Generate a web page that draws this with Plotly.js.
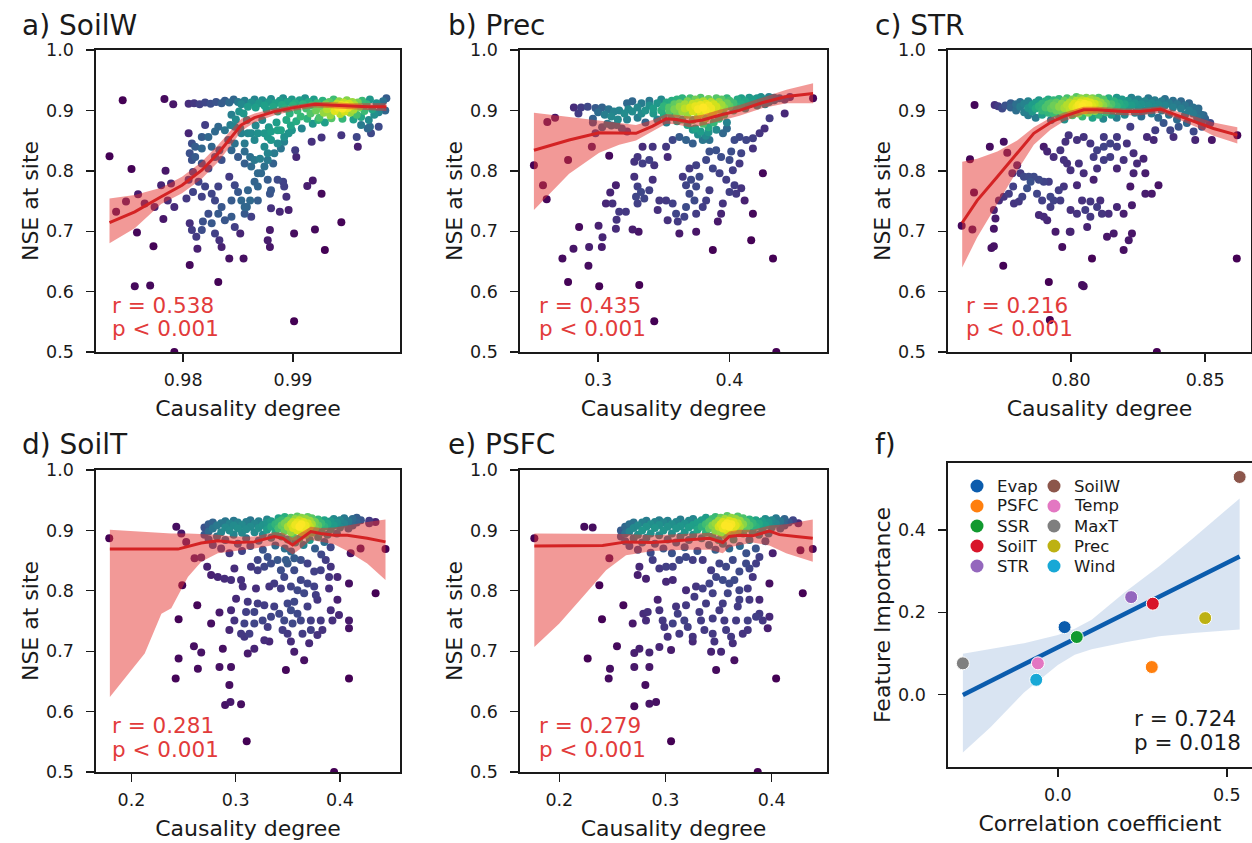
<!DOCTYPE html>
<html>
<head>
<meta charset="utf-8">
<script src="https://cdn.plot.ly/plotly-3.0.1.min.js"></script>
<style>html,body{margin:0;padding:0;background:#fff;}#chart{width:1252px;height:843px;}</style>
</head>
<body>
<div id="chart"></div>
<script>
// ---------------- DATA ----------------
const panelTitles = ['a) SoilW', 'b) Prec', 'c) STR', 'd) SoilT', 'e) PSFC', 'f)'];
const statR = ['r = 0.538', 'r = 0.435', 'r = 0.216', 'r = 0.281', 'r = 0.279', 'r = 0.724'];
const statP = ['p < 0.001', 'p < 0.001', 'p < 0.001', 'p < 0.001', 'p < 0.001', 'p = 0.018'];
const nseTicks = [0.5, 0.6, 0.7, 0.8, 0.9, 1.0];
const soilwTicks = [0.98, 0.99];
const precTicks = [0.3, 0.4];
const strTicks = [0.80, 0.85];
const soiltTicks = [0.2, 0.3, 0.4];
const psfcTicks = [0.2, 0.3, 0.4];
const corrTicks = [0.0, 0.5];
const impTicks = [0.0, 0.2, 0.4];

// a) SoilW : [causality degree, NSE]
const soilwPts = [
[0.9733,0.824],[0.9745,0.917],[0.9753,0.803],[0.9739,0.732],[0.9748,0.749],[0.9759,0.761],[0.9758,0.698],[0.9756,0.609],[0.9770,0.610],[0.9773,0.675],[0.9765,0.746],[0.9774,0.740],[0.9783,0.919],[0.9791,0.910],[0.9784,0.800],[0.9782,0.720],[0.9780,0.776],[0.9789,0.779],[0.9786,0.751],[0.9792,0.740],[0.9792,0.500],[0.9806,0.644],[0.9813,0.671],[0.9832,0.616],[0.9842,0.655],[0.9855,0.655],[0.9901,0.551],[0.9901,0.696],[0.9920,0.703],[0.9929,0.669],[0.9944,0.715],[0.9926,0.762],[0.9913,0.775],[0.9918,0.784],[0.9902,0.834],[0.9903,0.823],[0.9917,0.848],[0.9926,0.855],[0.9944,0.859],[0.9959,0.840],[0.9958,0.856],[0.9971,0.862],[0.9970,0.873],[0.9978,0.873],[0.9985,0.920],
[0.9808,0.845],[0.9806,0.829],[0.9811,0.840],[0.9817,0.837],[0.9820,0.876],[0.9829,0.865],[0.9823,0.856],[0.9808,0.818],[0.9817,0.812],[0.9823,0.804],[0.9809,0.798],[0.9805,0.785],[0.9814,0.782],[0.9820,0.774],[0.9809,0.765],[0.9803,0.754],[0.9817,0.757],[0.9826,0.762],[0.9832,0.774],[0.9829,0.751],[0.9835,0.740],[0.9823,0.729],[0.9818,0.716],[0.9808,0.702],[0.9812,0.691],[0.9806,0.713],[0.9817,0.702],[0.9826,0.713],[0.9832,0.729],[0.9838,0.718],[0.9844,0.724],[0.9847,0.707],[0.9852,0.696],[0.9833,0.685],[0.9835,0.674],[0.9829,0.696],[0.9842,0.790],[0.9847,0.776],[0.9850,0.765],[0.9844,0.751],[0.9853,0.751],[0.9856,0.740],[0.9861,0.751],[0.9859,0.768],[0.9865,0.782],[0.9868,0.796],[0.9862,0.807],[0.9856,0.812],[0.9850,0.823],[0.9844,0.834],[0.9856,0.832],[0.9861,0.823],[0.9865,0.818],[0.9870,0.820],[0.9874,0.807],[0.9877,0.818],[0.9882,0.812],[0.9877,0.829],[0.9874,0.840],[0.9880,0.851],[0.9886,0.845],[0.9889,0.837],[0.9892,0.848],[0.9883,0.829],[0.9865,0.851],[0.9859,0.862],[0.9853,0.862],[0.9856,0.845],[0.9868,0.862],[0.9874,0.862],[0.9877,0.856],[0.9880,0.865],[0.9886,0.867],[0.9892,0.856],[0.9896,0.862],[0.9899,0.867],[0.9856,0.729],[0.9862,0.724],[0.9858,0.740],[0.9868,0.751],[0.9877,0.785],[0.9880,0.768],[0.9879,0.762],[0.9886,0.785],[0.9891,0.782],[0.9894,0.757],[0.9896,0.735],[0.9888,0.732],[0.9880,0.738],[0.9879,0.702],[0.9877,0.685],[0.9879,0.674],[0.9892,0.774],[0.9868,0.774],[0.9871,0.796],[0.9835,0.818],[0.9829,0.823],[0.9833,0.834],[0.9841,0.851],[0.9847,0.845],[0.9838,0.867],[0.9847,0.873],[0.9832,0.873],[0.9826,0.840],[0.9817,0.856],[0.9811,0.823],[0.9805,0.862],
[0.9805,0.911],[0.9810,0.912],[0.9815,0.910],[0.9820,0.913],[0.9825,0.911],[0.9830,0.914],[0.9835,0.912],[0.9838,0.916],[0.9842,0.913],[0.9846,0.918],[0.9850,0.914],[0.9853,0.910],[0.9856,0.916],[0.9859,0.906],[0.9862,0.913],[0.9865,0.918],[0.9866,0.905],[0.9869,0.912],[0.9872,0.917],[0.9874,0.908],[0.9876,0.901],[0.9878,0.914],[0.9880,0.919],[0.9882,0.906],[0.9884,0.912],[0.9886,0.898],[0.9888,0.916],[0.9890,0.909],[0.9891,0.920],[0.9893,0.903],[0.9895,0.914],[0.9897,0.895],[0.9899,0.918],[0.9900,0.908],[0.9902,0.912],[0.9904,0.900],[0.9906,0.917],[0.9907,0.890],[0.9909,0.910],[0.9911,0.920],[0.9912,0.903],[0.9914,0.914],[0.9916,0.895],[0.9917,0.908],[0.9919,0.918],[0.9921,0.900],[0.9922,0.912],[0.9924,0.888],[0.9925,0.906],[0.9927,0.916],[0.9928,0.896],[0.9930,0.910],[0.9931,0.902],[0.9933,0.914],[0.9934,0.892],[0.9936,0.907],[0.9937,0.918],[0.9938,0.899],[0.9940,0.911],[0.9941,0.905],[0.9942,0.915],[0.9943,0.894],[0.9944,0.909],[0.9945,0.903],[0.9946,0.913],[0.9947,0.898],[0.9948,0.908],[0.9949,0.917],[0.9950,0.904],[0.9951,0.911],[0.9952,0.896],[0.9953,0.907],[0.9954,0.914],[0.9955,0.901],[0.9956,0.909],[0.9958,0.893],[0.9959,0.913],[0.9960,0.905],[0.9962,0.889],[0.9963,0.916],[0.9965,0.899],[0.9967,0.910],[0.9969,0.884],[0.9970,0.918],[0.9972,0.902],[0.9974,0.893],[0.9976,0.912],[0.9978,0.897],[0.9980,0.906],[0.9982,0.915],[0.9984,0.900],
[0.9872,0.884],[0.9878,0.872],[0.9885,0.880],[0.9889,0.867],[0.9894,0.884],[0.9898,0.875],[0.9903,0.882],[0.9908,0.870],[0.9913,0.886],[0.9918,0.878],[0.9923,0.884],[0.9929,0.880],[0.9935,0.887],[0.9945,0.886],[0.9955,0.885],[0.9962,0.876],[0.9968,0.870],
[0.9855,0.895],[0.9858,0.884],[0.9852,0.870],[0.9848,0.885],[0.9843,0.876],[0.9862,0.862],[0.9866,0.875],[0.9844,0.893],[0.9851,0.898]
];
const soilwLineX = [0.9733,0.9756,0.9780,0.9799,0.9817,0.9832,0.9844,0.9853,0.9865,0.9883,0.9902,0.9920,0.9932,0.9953,0.9968,0.9985];
const soilwLineY = [0.714,0.732,0.757,0.776,0.801,0.829,0.856,0.876,0.888,0.898,0.905,0.910,0.909,0.907,0.906,0.906];
const soilwBandHi = [0.754,0.760,0.772,0.790,0.815,0.843,0.868,0.886,0.895,0.903,0.909,0.914,0.914,0.912,0.912,0.912];
const soilwBandLo = [0.680,0.705,0.745,0.763,0.787,0.815,0.843,0.866,0.880,0.892,0.900,0.905,0.904,0.902,0.900,0.899];

// b) Prec
const precPts = [
[0.2511,0.809],[0.2580,0.776],[0.2608,0.753],[0.2613,0.881],[0.2672,0.888],[0.2771,0.818],[0.2952,0.840],[0.2728,0.655],[0.2771,0.616],[0.2812,0.671],[0.2855,0.707],[0.2931,0.674],[0.2926,0.643],[0.3008,0.609],[0.3003,0.709],[0.3033,0.690],[0.3028,0.674],[0.3084,0.825],[0.3092,0.764],[0.3135,0.776],[0.3059,0.746],[0.3109,0.746],[0.3140,0.719],[0.3135,0.704],[0.3211,0.732],[0.3160,0.732],[0.3262,0.703],[0.3308,0.699],[0.3313,0.611],[0.3427,0.551],[0.3275,0.815],[0.3300,0.823],[0.3338,0.812],[0.3389,0.818],[0.3427,0.809],[0.3275,0.790],[0.3300,0.774],[0.3326,0.765],[0.3288,0.757],[0.3351,0.754],[0.3389,0.768],[0.3300,0.746],[0.3415,0.785],[0.3466,0.751],[0.3453,0.735],[0.3517,0.751],[0.3529,0.718],[0.3567,0.746],[0.3593,0.729],[0.3606,0.716],[0.3618,0.696],[0.3656,0.724],[0.3669,0.740],[0.3695,0.762],[0.3669,0.776],[0.3707,0.785],[0.3644,0.790],[0.3695,0.804],[0.3746,0.809],[0.3771,0.790],[0.3746,0.774],[0.3733,0.751],[0.3746,0.729],[0.3746,0.699],[0.3796,0.740],[0.3822,0.751],[0.3847,0.768],[0.3873,0.669],[0.3911,0.716],[0.3936,0.729],[0.3949,0.746],[0.3975,0.785],[0.3924,0.796],[0.3873,0.804],[0.3822,0.818],[0.3847,0.832],[0.3898,0.834],[0.3936,0.823],[0.4000,0.818],[0.4013,0.832],[0.4025,0.801],[0.4038,0.776],[0.4051,0.762],[0.4000,0.765],[0.4089,0.771],[0.4115,0.751],[0.4178,0.729],[0.4165,0.685],[0.4076,0.812],[0.4089,0.829],[0.4178,0.837],[0.4254,0.796],[0.4331,0.655],[0.4356,0.500],[0.4178,0.854],[0.4229,0.862],[0.4267,0.870],[0.4305,0.887],[0.4420,0.895],[0.4127,0.851],[0.4076,0.856],[0.4038,0.851],[0.3517,0.840],[0.3529,0.823],[0.3567,0.851],[0.3618,0.856],[0.3415,0.840],[0.3338,0.840],[0.3796,0.851],[0.3847,0.851],[0.3669,0.851],[0.3720,0.845],[0.4636,0.920],
[0.2815,0.905],[0.2870,0.905],[0.2920,0.906],[0.2980,0.904],[0.3030,0.905],[0.3080,0.902],[0.3120,0.898],[0.3160,0.900],[0.3200,0.895],[0.3000,0.897],[0.3050,0.893],[0.3100,0.890],[0.2850,0.895],[0.3150,0.885],[0.3230,0.902],[0.3070,0.878],[0.3140,0.876],[0.2960,0.886],[0.3220,0.885],
[0.322,0.912],[0.326,0.898],[0.326,0.915],[0.330,0.905],[0.330,0.888],[0.333,0.912],[0.333,0.895],[0.336,0.900],[0.336,0.880],[0.339,0.908],[0.339,0.916],[0.342,0.895],[0.342,0.903],[0.345,0.912],[0.345,0.885],[0.348,0.900],[0.348,0.918],[0.350,0.907],[0.350,0.892],[0.352,0.913],[0.352,0.880],[0.354,0.899],[0.354,0.905],[0.356,0.916],[0.356,0.890],[0.358,0.902],[0.358,0.910],[0.360,0.895],[0.360,0.918],[0.360,0.882],[0.362,0.906],[0.362,0.912],[0.364,0.898],[0.364,0.920],[0.364,0.885],[0.366,0.910],[0.366,0.903],[0.368,0.915],[0.368,0.893],[0.368,0.876],[0.370,0.905],[0.370,0.920],[0.372,0.898],[0.372,0.911],[0.372,0.884],[0.374,0.907],[0.374,0.918],[0.374,0.870],[0.376,0.902],[0.376,0.913],[0.376,0.890],[0.378,0.909],[0.378,0.896],[0.378,0.921],[0.380,0.905],[0.380,0.915],[0.380,0.878],[0.382,0.900],[0.382,0.911],[0.382,0.887],[0.384,0.908],[0.384,0.919],[0.384,0.872],[0.386,0.903],[0.386,0.914],[0.386,0.894],[0.388,0.910],[0.388,0.898],[0.388,0.880],[0.390,0.906],[0.390,0.920],[0.392,0.901],[0.392,0.914],[0.392,0.886],[0.394,0.909],[0.394,0.918],[0.396,0.904],[0.396,0.893],[0.398,0.912],[0.398,0.920],[0.398,0.880],[0.400,0.907],[0.400,0.916],[0.403,0.912],[0.403,0.900],[0.406,0.918],[0.406,0.906],[0.409,0.910],[0.409,0.920],[0.412,0.915],[0.412,0.903],[0.415,0.921],[0.415,0.910],[0.418,0.913],[0.418,0.918],[0.421,0.920],[0.421,0.908],[0.424,0.915],[0.424,0.922],[0.427,0.918],[0.427,0.910],[0.430,0.922],[0.430,0.914],[0.434,0.917],[0.434,0.921],[0.438,0.920],[0.442,0.918],[0.446,0.922],
[0.372,0.868],[0.378,0.865],[0.384,0.864],[0.390,0.868],[0.395,0.862],[0.382,0.858],[0.376,0.860],[0.398,0.870],[0.296,0.880],[0.303,0.872],[0.310,0.875],[0.318,0.870],[0.322,0.865],[0.298,0.862]
];
const precLineX = [0.2511,0.2779,0.3008,0.3160,0.3288,0.3415,0.3517,0.3593,0.3695,0.3796,0.3924,0.4076,0.4254,0.4433,0.4636];
const precLineY = [0.834,0.851,0.863,0.862,0.862,0.874,0.886,0.885,0.881,0.884,0.892,0.900,0.913,0.923,0.928];
const precBandHi = [0.896,0.889,0.884,0.880,0.876,0.884,0.894,0.893,0.890,0.893,0.901,0.909,0.922,0.934,0.945];
const precBandLo = [0.735,0.795,0.830,0.843,0.850,0.865,0.878,0.877,0.872,0.875,0.883,0.891,0.904,0.912,0.912];

// c) STR
const strPts = [
[0.7640,0.909],[0.7592,0.709],[0.7632,0.703],[0.7623,0.819],[0.7638,0.764],[0.7697,0.840],[0.7715,0.909],[0.7728,0.907],[0.7743,0.903],[0.7762,0.830],[0.7749,0.848],[0.7712,0.735],[0.7718,0.721],[0.7712,0.704],[0.7703,0.672],[0.7712,0.675],[0.7747,0.643],[0.7731,0.751],[0.7749,0.757],[0.7768,0.762],[0.7784,0.774],[0.7781,0.796],[0.7799,0.809],[0.7811,0.796],[0.7824,0.790],[0.7842,0.790],[0.7861,0.790],[0.7880,0.785],[0.7898,0.782],[0.7917,0.782],[0.7849,0.782],[0.7805,0.749],[0.7818,0.757],[0.7787,0.746],[0.7836,0.771],[0.7873,0.762],[0.7892,0.751],[0.7923,0.757],[0.7935,0.751],[0.7954,0.768],[0.7973,0.774],[0.7960,0.751],[0.7880,0.727],[0.7898,0.724],[0.7911,0.718],[0.7923,0.740],[0.7942,0.699],[0.7967,0.674],[0.7995,0.699],[0.7917,0.616],[0.7921,0.553],[0.8078,0.655],[0.8047,0.609],[0.8041,0.611],[0.7898,0.840],[0.7911,0.832],[0.7935,0.823],[0.7973,0.818],[0.7985,0.812],[0.7960,0.834],[0.7998,0.801],[0.8029,0.812],[0.8047,0.796],[0.8022,0.776],[0.8041,0.751],[0.8053,0.735],[0.8072,0.749],[0.8097,0.740],[0.8072,0.724],[0.8060,0.707],[0.8022,0.729],[0.7998,0.735],[0.7998,0.699],[0.8084,0.785],[0.8109,0.751],[0.8115,0.729],[0.8140,0.729],[0.8134,0.691],[0.8159,0.696],[0.8171,0.740],[0.8196,0.729],[0.8196,0.669],[0.8215,0.685],[0.8227,0.696],[0.8227,0.743],[0.8221,0.774],[0.8233,0.796],[0.8246,0.812],[0.8270,0.820],[0.8277,0.796],[0.8277,0.762],[0.8301,0.762],[0.8326,0.776],[0.8171,0.840],[0.8146,0.845],[0.8122,0.840],[0.8097,0.834],[0.8084,0.823],[0.8072,0.845],[0.8047,0.856],[0.8022,0.851],[0.8122,0.856],[0.8171,0.856],[0.8208,0.845],[0.8233,0.829],[0.8196,0.818],[0.8171,0.804],[0.8146,0.823],[0.8122,0.818],[0.8097,0.804],[0.8221,0.873],[0.8283,0.856],[0.8308,0.851],[0.8314,0.867],[0.8345,0.879],[0.8370,0.867],[0.8382,0.856],[0.8401,0.873],[0.8432,0.879],[0.8457,0.865],[0.8463,0.851],[0.8488,0.873],[0.8519,0.879],[0.8525,0.851],[0.8494,0.892],[0.8475,0.903],[0.8620,0.859],[0.8618,0.655],[0.8320,0.500],[0.7979,0.848],[0.7991,0.859],
[0.7755,0.908],[0.7775,0.905],[0.7775,0.912],[0.7795,0.900],[0.7795,0.910],[0.7810,0.906],[0.7810,0.914],[0.7825,0.897],[0.7825,0.911],[0.7840,0.904],[0.7840,0.915],[0.7840,0.892],[0.7855,0.909],[0.7855,0.898],[0.7868,0.913],[0.7868,0.903],[0.7868,0.888],[0.7880,0.907],[0.7880,0.917],[0.7892,0.900],[0.7892,0.911],[0.7892,0.893],[0.7905,0.915],[0.7905,0.905],[0.7915,0.896],[0.7915,0.910],[0.7915,0.918],[0.7925,0.903],[0.7925,0.912],[0.7925,0.884],[0.7935,0.908],[0.7935,0.917],[0.7935,0.895],[0.7945,0.900],[0.7945,0.913],[0.7955,0.906],[0.7955,0.919],[0.7955,0.890],[0.7965,0.911],[0.7965,0.898],[0.7975,0.904],[0.7975,0.916],[0.7975,0.885],[0.7985,0.909],[0.7985,0.920],[0.7985,0.896],[0.7995,0.902],[0.7995,0.913],[0.8005,0.907],[0.8005,0.918],[0.8005,0.892],[0.8012,0.911],[0.8012,0.899],[0.8020,0.905],[0.8020,0.916],[0.8020,0.922],[0.8028,0.909],[0.8028,0.895],[0.8035,0.913],[0.8035,0.902],[0.8035,0.920],[0.8042,0.907],[0.8042,0.917],[0.8042,0.890],[0.8050,0.911],[0.8050,0.900],[0.8057,0.905],[0.8057,0.915],[0.8057,0.921],[0.8065,0.909],[0.8065,0.896],[0.8072,0.913],[0.8072,0.903],[0.8072,0.918],[0.8080,0.907],[0.8080,0.920],[0.8080,0.888],[0.8088,0.911],[0.8088,0.899],[0.8095,0.905],[0.8095,0.916],[0.8103,0.909],[0.8103,0.921],[0.8103,0.893],[0.8110,0.902],[0.8110,0.913],[0.8120,0.908],[0.8120,0.918],[0.8120,0.886],[0.8130,0.912],[0.8130,0.897],[0.8140,0.905],[0.8140,0.920],[0.8150,0.910],[0.8150,0.893],[0.8160,0.915],[0.8160,0.902],[0.8170,0.907],[0.8170,0.921],[0.8170,0.888],[0.8180,0.912],[0.8180,0.898],[0.8190,0.905],[0.8190,0.918],[0.8200,0.910],[0.8200,0.893],[0.8212,0.916],[0.8212,0.902],[0.8225,0.908],[0.8225,0.921],[0.8238,0.912],[0.8238,0.896],[0.8250,0.905],[0.8250,0.918],[0.8262,0.910],[0.8262,0.890],[0.8275,0.915],[0.8275,0.900],[0.8288,0.908],[0.8288,0.920],[0.8300,0.912],[0.8300,0.895],[0.8312,0.905],[0.8312,0.917],[0.8325,0.910],[0.8325,0.888],[0.8338,0.915],[0.8338,0.900],[0.8350,0.908],[0.8350,0.919],[0.8365,0.912],[0.8365,0.893],[0.8380,0.905],[0.8380,0.916],[0.8395,0.910],[0.8395,0.885],[0.8410,0.903],[0.8410,0.915],[0.8425,0.908],[0.8425,0.893],[0.8440,0.900],[0.8440,0.912],[0.8455,0.895],[0.8455,0.905],[0.8470,0.888],[0.8470,0.900],[0.8485,0.880],[0.8485,0.893],[0.8500,0.886],[0.8515,0.878]
];
const strLineX = [0.7594,0.7650,0.7725,0.7799,0.7861,0.7923,0.7973,0.8047,0.8097,0.8196,0.8258,0.8333,0.8395,0.8469,0.8531,0.8620];
const strLineY = [0.714,0.751,0.790,0.829,0.862,0.880,0.890,0.901,0.901,0.898,0.898,0.902,0.892,0.881,0.870,0.859];
const strBandHi = [0.815,0.820,0.832,0.850,0.872,0.888,0.896,0.906,0.906,0.903,0.903,0.907,0.898,0.889,0.880,0.872];
const strBandLo = [0.640,0.690,0.745,0.800,0.843,0.868,0.882,0.894,0.895,0.892,0.892,0.896,0.886,0.872,0.858,0.845];

// d) SoilT
const soiltPts = [
[0.1787,0.887],[0.2430,0.906],[0.2478,0.895],[0.2487,0.809],[0.2452,0.753],[0.2452,0.688],[0.2424,0.655],[0.2525,0.881],[0.2605,0.854],[0.2669,0.855],[0.2631,0.776],[0.2599,0.708],[0.2669,0.698],[0.2637,0.671],[0.2764,0.746],[0.2844,0.764],[0.2726,0.840],[0.2764,0.826],[0.2828,0.823],[0.2892,0.820],[0.2955,0.818],[0.2987,0.837],[0.2876,0.704],[0.2844,0.674],[0.2955,0.674],[0.2939,0.644],[0.2898,0.611],[0.2949,0.616],[0.3051,0.612],[0.3105,0.551],[0.2939,0.735],[0.2987,0.751],[0.2955,0.768],[0.3003,0.787],[0.3051,0.818],[0.3067,0.807],[0.3115,0.782],[0.3099,0.765],[0.3083,0.746],[0.3051,0.729],[0.3083,0.724],[0.3131,0.729],[0.3178,0.704],[0.3115,0.696],[0.3178,0.746],[0.3178,0.765],[0.3210,0.779],[0.3194,0.804],[0.3274,0.776],[0.3258,0.751],[0.3306,0.740],[0.3274,0.718],[0.3322,0.716],[0.3338,0.757],[0.3369,0.774],[0.3322,0.807],[0.3369,0.812],[0.3433,0.804],[0.3417,0.762],[0.3465,0.751],[0.3449,0.735],[0.3497,0.729],[0.3529,0.716],[0.3481,0.669],[0.3561,0.699],[0.3545,0.746],[0.3529,0.768],[0.3497,0.779],[0.3561,0.782],[0.3592,0.762],[0.3624,0.751],[0.3640,0.729],[0.3656,0.685],[0.3704,0.713],[0.3720,0.735],[0.3720,0.751],[0.3688,0.774],[0.3656,0.796],[0.3592,0.801],[0.3529,0.807],[0.3465,0.823],[0.3433,0.834],[0.3497,0.845],[0.3561,0.834],[0.3624,0.818],[0.3688,0.812],[0.3752,0.807],[0.3768,0.793],[0.3783,0.785],[0.3815,0.751],[0.3831,0.735],[0.3783,0.727],[0.3927,0.751],[0.3911,0.768],[0.3895,0.804],[0.3895,0.823],[0.3911,0.840],[0.3863,0.851],[0.3815,0.834],[0.3752,0.832],[0.3688,0.845],[0.3624,0.851],[0.3561,0.854],[0.3481,0.851],[0.3401,0.851],[0.3338,0.845],[0.3274,0.840],[0.3210,0.834],[0.3146,0.840],[0.3210,0.851],[0.3306,0.856],[0.3975,0.785],[0.3990,0.760],[0.4086,0.812],[0.4086,0.751],[0.4086,0.738],[0.4086,0.655],[0.4102,0.862],[0.4197,0.870],[0.4341,0.796],[0.4436,0.869],[0.3943,0.500],[0.3975,0.823],
[0.270,0.905],[0.270,0.893],[0.274,0.910],[0.274,0.885],[0.274,0.898],[0.278,0.903],[0.278,0.913],[0.278,0.876],[0.282,0.908],[0.282,0.890],[0.286,0.912],[0.286,0.897],[0.286,0.870],[0.290,0.905],[0.290,0.915],[0.290,0.884],[0.294,0.900],[0.294,0.911],[0.294,0.862],[0.298,0.908],[0.298,0.893],[0.298,0.916],[0.302,0.903],[0.302,0.913],[0.302,0.878],[0.306,0.909],[0.306,0.896],[0.306,0.866],[0.310,0.914],[0.310,0.902],[0.310,0.887],[0.314,0.906],[0.314,0.917],[0.314,0.874],[0.318,0.911],[0.318,0.897],[0.322,0.904],[0.322,0.915],[0.322,0.883],[0.326,0.909],[0.326,0.893],[0.326,0.868],[0.330,0.913],[0.330,0.901],[0.330,0.918],[0.334,0.906],[0.334,0.888],[0.334,0.915],[0.338,0.910],[0.338,0.896],[0.338,0.875],[0.341,0.914],[0.341,0.903],[0.341,0.920],[0.344,0.908],[0.344,0.890],[0.344,0.917],[0.347,0.912],[0.347,0.899],[0.347,0.922],[0.347,0.870],[0.350,0.906],[0.350,0.916],[0.350,0.885],[0.353,0.910],[0.353,0.897],[0.353,0.921],[0.353,0.865],[0.355,0.904],[0.355,0.914],[0.355,0.890],[0.357,0.909],[0.357,0.919],[0.357,0.880],[0.359,0.913],[0.359,0.900],[0.359,0.923],[0.361,0.906],[0.361,0.917],[0.361,0.886],[0.363,0.910],[0.363,0.897],[0.363,0.921],[0.365,0.914],[0.365,0.904],[0.365,0.876],[0.367,0.908],[0.367,0.919],[0.367,0.893],[0.369,0.912],[0.369,0.900],[0.369,0.922],[0.371,0.906],[0.371,0.916],[0.371,0.884],[0.373,0.910],[0.373,0.896],[0.373,0.920],[0.376,0.914],[0.376,0.903],[0.376,0.870],[0.379,0.908],[0.379,0.918],[0.379,0.889],[0.382,0.912],[0.382,0.897],[0.382,0.860],[0.385,0.906],[0.385,0.917],[0.385,0.881],[0.388,0.911],[0.388,0.893],[0.391,0.915],[0.391,0.902],[0.391,0.872],[0.394,0.908],[0.394,0.919],[0.397,0.913],[0.397,0.895],[0.400,0.917],[0.400,0.905],[0.404,0.911],[0.404,0.920],[0.408,0.915],[0.408,0.903],[0.412,0.919],[0.412,0.908],[0.416,0.913],[0.416,0.921],[0.420,0.917],[0.428,0.912],[0.428,0.916],[0.434,0.914]
];
const soiltLineX = [0.1793,0.2446,0.2669,0.2828,0.2987,0.3178,0.3369,0.3449,0.3545,0.3608,0.3720,0.3815,0.3943,0.4070,0.4261,0.4436];
const soiltLineY = [0.869,0.869,0.879,0.883,0.880,0.881,0.890,0.887,0.876,0.884,0.898,0.895,0.892,0.892,0.887,0.881];
const soiltBandX = [0.1793,0.2127,0.2287,0.2382,0.2541,0.2669,0.2828,0.2987,0.3178,0.3369,0.3449,0.3545,0.3608,0.3720,0.3815,0.3943,0.4070,0.4261,0.4436];
const soiltBandHi = [0.901,0.898,0.896,0.895,0.895,0.894,0.893,0.890,0.890,0.897,0.896,0.888,0.894,0.906,0.904,0.905,0.908,0.914,0.918];
const soiltBandLo = [0.624,0.696,0.762,0.771,0.823,0.848,0.862,0.866,0.870,0.876,0.872,0.860,0.868,0.884,0.881,0.877,0.866,0.845,0.818];

// e) PSFC
const psfcPts = [
[0.1765,0.887],[0.2235,0.906],[0.2314,0.905],[0.2267,0.688],[0.2377,0.809],[0.2402,0.753],[0.2477,0.671],[0.2465,0.655],[0.2471,0.854],[0.2543,0.708],[0.2603,0.776],[0.2691,0.746],[0.2706,0.697],[0.2706,0.674],[0.2706,0.609],[0.2754,0.704],[0.2791,0.762],[0.2832,0.765],[0.2816,0.751],[0.2848,0.674],[0.2810,0.644],[0.2848,0.613],[0.2911,0.616],[0.2848,0.698],[0.2942,0.707],[0.2926,0.785],[0.2942,0.768],[0.2973,0.751],[0.2989,0.740],[0.3052,0.702],[0.3052,0.551],[0.3020,0.724],[0.3068,0.746],[0.3099,0.774],[0.3115,0.762],[0.3130,0.729],[0.3068,0.818],[0.3005,0.815],[0.2942,0.837],[0.3005,0.840],[0.3068,0.840],[0.2754,0.840],[0.2738,0.826],[0.2816,0.820],[0.3193,0.776],[0.3177,0.751],[0.3209,0.740],[0.3193,0.801],[0.3272,0.790],[0.3256,0.724],[0.3256,0.716],[0.3319,0.765],[0.3334,0.751],[0.3366,0.735],[0.3381,0.779],[0.3350,0.804],[0.3287,0.807],[0.3413,0.812],[0.3444,0.796],[0.3444,0.754],[0.3444,0.729],[0.3460,0.716],[0.3429,0.699],[0.3476,0.669],[0.3523,0.699],[0.3507,0.768],[0.3539,0.779],[0.3554,0.751],[0.3570,0.735],[0.3586,0.796],[0.3617,0.724],[0.3633,0.713],[0.3648,0.685],[0.3664,0.751],[0.3680,0.774],[0.3695,0.785],[0.3695,0.801],[0.3648,0.818],[0.3601,0.812],[0.3539,0.818],[0.3476,0.823],[0.3429,0.834],[0.3507,0.845],[0.3570,0.840],[0.3633,0.851],[0.3695,0.832],[0.3758,0.845],[0.3790,0.837],[0.3821,0.823],[0.3774,0.804],[0.3790,0.785],[0.3774,0.751],[0.3774,0.735],[0.3727,0.729],[0.3852,0.757],[0.3884,0.762],[0.3915,0.751],[0.3962,0.738],[0.3978,0.757],[0.3978,0.812],[0.3884,0.785],[0.4009,0.862],[0.4041,0.655],[0.3868,0.500],[0.4292,0.796],[0.4270,0.867],[0.4386,0.869],[0.3852,0.845],[0.3884,0.856],[0.3193,0.856],[0.3256,0.851],[0.3350,0.851],[0.3130,0.851],[0.2879,0.851],
[0.258,0.900],[0.258,0.890],[0.262,0.906],[0.262,0.882],[0.262,0.895],[0.266,0.910],[0.266,0.898],[0.266,0.874],[0.270,0.904],[0.270,0.913],[0.270,0.887],[0.274,0.908],[0.274,0.893],[0.274,0.868],[0.278,0.913],[0.278,0.900],[0.278,0.880],[0.282,0.906],[0.282,0.916],[0.282,0.888],[0.286,0.910],[0.286,0.895],[0.286,0.863],[0.290,0.904],[0.290,0.914],[0.290,0.878],[0.294,0.909],[0.294,0.892],[0.294,0.917],[0.298,0.913],[0.298,0.900],[0.298,0.870],[0.302,0.906],[0.302,0.916],[0.302,0.885],[0.306,0.910],[0.306,0.895],[0.306,0.862],[0.310,0.914],[0.310,0.903],[0.310,0.880],[0.314,0.907],[0.314,0.918],[0.314,0.890],[0.318,0.911],[0.318,0.897],[0.318,0.872],[0.322,0.905],[0.322,0.916],[0.322,0.884],[0.326,0.909],[0.326,0.893],[0.326,0.919],[0.330,0.913],[0.330,0.901],[0.330,0.866],[0.334,0.906],[0.334,0.917],[0.334,0.887],[0.338,0.910],[0.338,0.896],[0.338,0.921],[0.341,0.914],[0.341,0.903],[0.341,0.876],[0.344,0.908],[0.344,0.919],[0.344,0.890],[0.347,0.912],[0.347,0.899],[0.347,0.922],[0.347,0.868],[0.350,0.906],[0.350,0.916],[0.350,0.884],[0.352,0.910],[0.352,0.896],[0.352,0.921],[0.354,0.914],[0.354,0.903],[0.354,0.878],[0.356,0.908],[0.356,0.919],[0.356,0.892],[0.358,0.912],[0.358,0.900],[0.358,0.924],[0.360,0.906],[0.360,0.916],[0.360,0.870],[0.362,0.910],[0.362,0.896],[0.362,0.921],[0.364,0.914],[0.364,0.904],[0.364,0.885],[0.366,0.908],[0.366,0.919],[0.368,0.912],[0.368,0.899],[0.368,0.923],[0.370,0.906],[0.370,0.916],[0.370,0.874],[0.373,0.910],[0.373,0.895],[0.373,0.920],[0.376,0.914],[0.376,0.903],[0.376,0.862],[0.379,0.908],[0.379,0.918],[0.379,0.884],[0.382,0.912],[0.382,0.897],[0.385,0.906],[0.385,0.917],[0.385,0.870],[0.388,0.911],[0.388,0.893],[0.391,0.915],[0.391,0.902],[0.394,0.908],[0.394,0.919],[0.394,0.882],[0.397,0.913],[0.397,0.895],[0.400,0.917],[0.400,0.905],[0.404,0.911],[0.404,0.920],[0.408,0.915],[0.408,0.903],[0.412,0.919],[0.412,0.908],[0.416,0.913],[0.420,0.917],[0.425,0.912]
];
const psfcLineX = [0.1765,0.2094,0.2408,0.2628,0.2879,0.3193,0.3413,0.3539,0.3601,0.3695,0.3821,0.3978,0.4072,0.4229,0.4386];
const psfcLineY = [0.874,0.874,0.875,0.881,0.880,0.884,0.887,0.880,0.890,0.892,0.891,0.899,0.893,0.890,0.887];
const psfcBandX = [0.1765,0.2000,0.2251,0.2440,0.2628,0.2879,0.3193,0.3413,0.3539,0.3601,0.3695,0.3821,0.3978,0.4135,0.4386];
const psfcBandHi = [0.895,0.895,0.895,0.894,0.894,0.892,0.894,0.896,0.890,0.898,0.901,0.901,0.908,0.910,0.918];
const psfcBandLo = [0.707,0.746,0.796,0.834,0.859,0.866,0.868,0.868,0.862,0.872,0.876,0.880,0.875,0.862,0.848];

// f) feature importance vs correlation
const featNames = ['Evap','PSFC','SSR','SoilT','STR','SoilW','Temp','MaxT','Prec','Wind'];
const featCorr = [0.020, 0.278, 0.056, 0.281, 0.217, 0.538, -0.059, -0.281, 0.436, -0.064];
const featImp = [0.164, 0.067, 0.140, 0.221, 0.237, 0.529, 0.076, 0.076, 0.186, 0.036];
const featColors = ['#0b5cad','#ff7f0e','#11992f','#d8152a','#9467bd','#8c564b','#e377c2','#7f7f7f','#bdb112','#18a8d6'];
const featBandX = [-0.281, -0.2, -0.1, 0.0, 0.05, 0.1, 0.2, 0.3, 0.4, 0.538];
const featBandHi = [0.099, 0.110, 0.125, 0.145, 0.160, 0.182, 0.250, 0.312, 0.380, 0.477];
const featBandLo = [-0.141, -0.080, 0.005, 0.072, 0.097, 0.110, 0.127, 0.142, 0.150, 0.158];

// ---------------- HELPERS ----------------
const W = 1252, H = 843;
const FONT = 'DejaVu Sans';
const TXT = '#1a1a1a';
const px = v => v / W;
const py = v => 1 - v / H;

// Gaussian KDE (bandwidth = 0.55 x Scott's factor) used to colour points by density
function kde(pts) {
  const n = pts.length;
  let mx = 0, my = 0;
  pts.forEach(p => { mx += p[0]; my += p[1]; });
  mx /= n; my /= n;
  let sxx = 0, syy = 0, sxy = 0;
  pts.forEach(p => { const dx = p[0]-mx, dy = p[1]-my; sxx += dx*dx; syy += dy*dy; sxy += dx*dy; });
  sxx /= (n-1); syy /= (n-1); sxy /= (n-1);
  const f2 = Math.pow(n, -1/3) * 0.3;
  const a = sxx*f2, d = syy*f2, b = sxy*f2;
  const det = a*d - b*b;
  const ia = d/det, id = a/det, ib = -b/det;
  return pts.map(p => {
    let s = 0;
    for (const q of pts) {
      const dx = p[0]-q[0], dy = p[1]-q[1];
      s += Math.exp(-0.5*(ia*dx*dx + 2*ib*dx*dy + id*dy*dy));
    }
    return s;
  });
}

const traces = [];
function densityPanel(pts, lineX, lineY, bandX, bandHi, bandLo, k) {
  const dens = kde(pts);
  const idx = pts.map((_, i) => i).sort((i, j) => dens[i] - dens[j]);
  const xa = 'x' + (k === 1 ? '' : k), ya = 'y' + (k === 1 ? '' : k);
  traces.push({
    type: 'scatter', mode: 'markers', xaxis: xa, yaxis: ya, showlegend: false, hoverinfo: 'skip',
    x: idx.map(i => pts[i][0]), y: idx.map(i => pts[i][1]),
    marker: { size: 8, color: idx.map(i => dens[i]), colorscale: 'Viridis', showscale: false, line: { width: 0 } }
  });
  traces.push({
    type: 'scatter', mode: 'lines', xaxis: xa, yaxis: ya, showlegend: false, hoverinfo: 'skip',
    x: bandX.concat(bandX.slice().reverse()), y: bandHi.concat(bandLo.slice().reverse()),
    fill: 'toself', fillcolor: 'rgba(230,52,48,0.5)', line: { width: 0 }
  });
  traces.push({
    type: 'scatter', mode: 'lines', xaxis: xa, yaxis: ya, showlegend: false, hoverinfo: 'skip',
    x: lineX, y: lineY, line: { color: '#d42324', width: 3 }
  });
}
densityPanel(soilwPts, soilwLineX, soilwLineY, soilwLineX, soilwBandHi, soilwBandLo, 1);
densityPanel(precPts, precLineX, precLineY, precLineX, precBandHi, precBandLo, 2);
densityPanel(strPts, strLineX, strLineY, strLineX, strBandHi, strBandLo, 3);
densityPanel(soiltPts, soiltLineX, soiltLineY, soiltBandX, soiltBandHi, soiltBandLo, 4);
densityPanel(psfcPts, psfcLineX, psfcLineY, psfcBandX, psfcBandHi, psfcBandLo, 5);

// panel f
traces.push({
  type: 'scatter', mode: 'lines', xaxis: 'x6', yaxis: 'y6', showlegend: false, hoverinfo: 'skip',
  x: featBandX.concat(featBandX.slice().reverse()), y: featBandHi.concat(featBandLo.slice().reverse()),
  fill: 'toself', fillcolor: 'rgba(160,188,222,0.4)', line: { width: 0 }
});
(function () {
  const n = featCorr.length;
  const mx = featCorr.reduce((s, v) => s + v, 0) / n;
  const my = featImp.reduce((s, v) => s + v, 0) / n;
  let sxy = 0, sxx = 0;
  for (let i = 0; i < n; i++) { sxy += (featCorr[i]-mx)*(featImp[i]-my); sxx += (featCorr[i]-mx)**2; }
  const slope = sxy / sxx, icpt = my - slope*mx;
  const x0 = Math.min(...featCorr), x1 = Math.max(...featCorr);
  traces.push({
    type: 'scatter', mode: 'lines', xaxis: 'x6', yaxis: 'y6', showlegend: false, hoverinfo: 'skip',
    x: [x0, x1], y: [icpt + slope*x0, icpt + slope*x1], line: { color: '#0b5cad', width: 4.5 }
  });
})();
featNames.forEach((nm, i) => {
  traces.push({
    type: 'scatter', mode: 'markers', xaxis: 'x6', yaxis: 'y6', name: nm, showlegend: false,
    x: [featCorr[i]], y: [featImp[i]],
    marker: { size: 13, color: featColors[i], line: { color: '#ffffff', width: 1 } }
  });
});

// ---------------- LAYOUT ----------------
const axBase = {
  showgrid: false, zeroline: false, showline: true, mirror: true,
  linecolor: '#1a1a1a', linewidth: 1.6,
  ticks: 'outside', ticklen: 8, tickwidth: 1.4, tickcolor: '#1a1a1a',
  tickfont: { family: FONT, size: 17.5, color: TXT },
  tickmode: 'array', fixedrange: true
};
const titleFont = { family: FONT, size: 22, color: TXT };
function xAx(dom, range, ticks, dec, anchor, title) {
  return Object.assign({}, axBase, {
    domain: dom, range: range, anchor: anchor, ticklabelstandoff: 3,
    tickvals: ticks, ticktext: ticks.map(v => v.toFixed(dec)),
    title: { text: title, font: titleFont, standoff: 12 }
  });
}
function yAx(dom, range, ticks, dec, anchor, title) {
  return Object.assign({}, axBase, {
    domain: dom, range: range, anchor: anchor, ticklabelstandoff: 9,
    tickvals: ticks, ticktext: ticks.map(v => v.toFixed(dec)),
    title: { text: title, font: titleFont, standoff: 1 }
  });
}
const colX = [[px(96), px(400)], [px(520), px(827)], [px(948), px(1251)]];
const rowTop = [py(352), py(50)];
const rowBot = [py(772), py(470)];
const NSE = 'NSE at site', CD = 'Causality degree';

const layout = {
  width: W, height: H, margin: { l: 0, r: 0, t: 0, b: 0 },
  paper_bgcolor: '#ffffff', plot_bgcolor: '#ffffff', showlegend: false,
  font: { family: FONT, color: TXT },
  xaxis:  xAx(colX[0], [0.97207, 0.99974], soilwTicks, 2, 'y', CD),
  yaxis:  yAx(rowTop, [0.5, 1.0], nseTicks, 1, 'x', NSE),
  xaxis2: xAx(colX[1], [0.2405, 0.4742], precTicks, 1, 'y2', CD),
  yaxis2: yAx(rowTop, [0.5, 1.0], nseTicks, 1, 'x2', NSE),
  xaxis3: xAx(colX[2], [0.7541, 0.8671], strTicks, 2, 'y3', CD),
  yaxis3: yAx(rowTop, [0.5, 1.0], nseTicks, 1, 'x3', NSE),
  xaxis4: xAx(colX[0], [0.1660, 0.4575], soiltTicks, 1, 'y4', CD),
  yaxis4: yAx(rowBot, [0.5, 1.0], nseTicks, 1, 'x4', NSE),
  xaxis5: xAx(colX[1], [0.1630, 0.4520], psfcTicks, 1, 'y5', CD),
  yaxis5: yAx(rowBot, [0.5, 1.0], nseTicks, 1, 'x5', NSE),
  xaxis6: xAx([px(948), 1], [-0.325, 0.5745], corrTicks, 1, 'y6', 'Correlation coefficient'),
  yaxis6: yAx([py(767), py(463)], [-0.176, 0.563], impTicks, 1, 'x6', 'Feature Importance'),
  annotations: [],
  shapes: []
};

// panel titles
const titlePos = [[20, 25], [446, 25], [873, 25], [20, 444], [446, 444], [873, 444]];
panelTitles.forEach((t, i) => {
  layout.annotations.push({ xref: 'paper', yref: 'paper', x: px(titlePos[i][0]), y: py(titlePos[i][1]),
    xanchor: 'left', yanchor: 'middle', showarrow: false, text: t, font: { family: FONT, size: 28, color: TXT } });
});
// stats text
const statPos = [[110, 305], [537, 305], [964, 305], [110, 725], [537, 725], [1132, 718]];
statR.forEach((t, i) => {
  const col = i < 5 ? '#e23b3b' : TXT;
  const [x, y] = statPos[i];
  layout.annotations.push({ xref: 'paper', yref: 'paper', x: px(x), y: py(y), xanchor: 'left', yanchor: 'middle',
    showarrow: false, text: t, font: { family: FONT, size: 21.5, color: col } });
  layout.annotations.push({ xref: 'paper', yref: 'paper', x: px(x), y: py(y + 24), xanchor: 'left', yanchor: 'middle',
    showarrow: false, text: statP[i], font: { family: FONT, size: 21.5, color: col } });
});
// legend of panel f (two columns)
const legCols = [[977, 995], [1054, 1072]];
const legRows = [486, 506, 526, 546, 566];
featNames.forEach((nm, i) => {
  const c = Math.floor(i / 5), r = i % 5;
  const [mxp, tx] = legCols[c], yy = legRows[r];
  const rad = 6.5;
  layout.shapes.push({ type: 'circle', xref: 'paper', yref: 'paper',
    x0: px(mxp - rad), x1: px(mxp + rad), y0: py(yy + rad), y1: py(yy - rad),
    fillcolor: featColors[i], line: { width: 0 } });
  layout.annotations.push({ xref: 'paper', yref: 'paper', x: px(tx), y: py(yy), xanchor: 'left', yanchor: 'middle',
    showarrow: false, text: nm, font: { family: FONT, size: 16.5, color: TXT } });
});

Plotly.newPlot('chart', traces, layout, { staticPlot: true, displayModeBar: false });
</script>
</body>
</html>
